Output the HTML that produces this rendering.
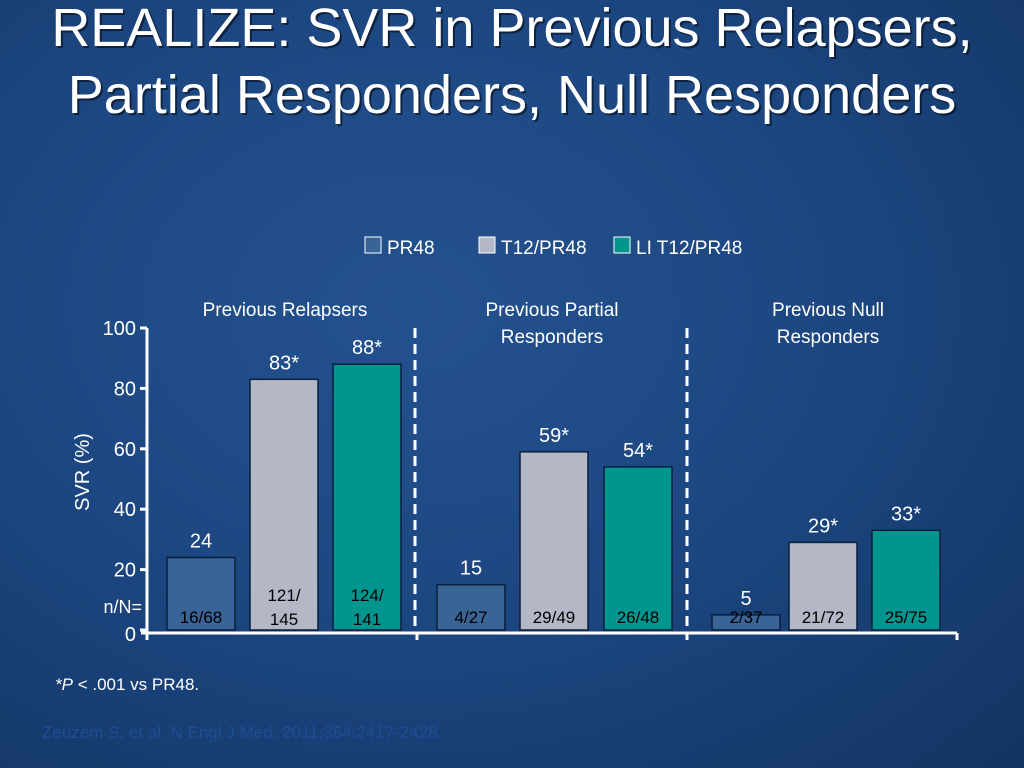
<!DOCTYPE html>
<html><head><meta charset="utf-8"><style>
html,body{margin:0;padding:0;width:1024px;height:768px;overflow:hidden}
body{background:radial-gradient(ellipse at 40% 40%,#24528f 0%,#1c4680 50%,#123461 100%);font-family:"Liberation Sans",sans-serif}
svg{position:absolute;left:0;top:0}
</style></head><body>
<svg width="1024" height="768">
<text x="512" y="46" text-anchor="middle" font-size="54" fill="#000" opacity="0.5"><tspan x="514" y="48">REALIZE: SVR in Previous Relapsers,</tspan><tspan x="514" y="115">Partial Responders, Null Responders</tspan></text>
<text x="512" y="46" text-anchor="middle" font-size="54" fill="#fff"><tspan x="512" y="46">REALIZE: SVR in Previous Relapsers,</tspan><tspan x="512" y="113">Partial Responders, Null Responders</tspan></text>
<g id="legend"></g>
<g id="plot"></g>
<text x="55" y="690" font-size="17" fill="#fff"><tspan font-style="italic">*P</tspan> &lt; .001 vs PR48.</text>
<text x="42" y="738" font-size="17" fill="#1f4d95">Zeuzem S, et al. N Engl J Med. 2011;364:2417-2428.</text>
</svg>
<script>
const groups=["Previous Relapsers","Previous Partial|Responders","Previous Null|Responders"];
const series=["PR48","T12/PR48","LI T12/PR48"];
const values=[[24,83,88],[15,59,54],[5,29,33]];
const valueLabels=[["24","83*","88*"],["15","59*","54*"],["5","29*","33*"]];
const nLabels=[["16/68","121/|145","124/|141"],["4/27","29/49","26/48"],["2/37","21/72","25/75"]];
const yTicks=[0,20,40,60,80,100];
const colors=["#3a6496","#b4b8c6","#00968f"];
const NS="http://www.w3.org/2000/svg";
const plot=document.getElementById('plot'),leg=document.getElementById('legend');
const x0=147,x1=957,yB=630,yT=328;
const y=v=>yB-(v/100)*(yB-yT);
const groupW=(x1-x0)/3;
const gx=g=>x0+g*groupW;
const bw=68;
const groupStart=[167,437,712];
const barOff=[[0,83,166],[0,83,167],[0,77,160]];
const bx=(g,s)=>groupStart[g]+barOff[g][s];
function mk(t,a,txt,p){const e=document.createElementNS(NS,t);for(const k in a)e.setAttribute(k,a[k]);if(txt!==undefined)e.textContent=txt;(p||plot).appendChild(e);return e;}
const lx=[365,479,614];
series.forEach((s,i)=>{
 const r=mk('rect',{x:lx[i],y:237,width:16,height:16,fill:colors[i],stroke:"#fff","stroke-width":1},undefined,leg);
 
 
 const t=mk('text',{x:lx[i]+22,y:254,"font-size":19,fill:"#fff"},s,leg);
 
 
});
values.forEach((gv,g)=>{
 gv.forEach((v,s)=>{
  const x=bx(g,s);
  const r=mk('rect',{x:x,y:y(v),width:bw,height:yB-y(v),fill:colors[s],stroke:"#0a1e3c","stroke-width":1.5});
  
  
  const t=mk('text',{x:x+bw/2,y:y(v)-10,"text-anchor":"middle","font-size":20,fill:"#fff"},valueLabels[g][s]);
  
  
  const parts=nLabels[g][s].split('|');
  parts.forEach((p,i)=>{
   const n=mk('text',{x:x+bw/2,y:parts.length>1?(601+i*24):623,"text-anchor":"middle","font-size":17,fill:"#000"},p);
   
   
  });
 });
 const gl=groups[g].split('|');
 gl.forEach((p,i)=>{
  const t=mk('text',{x:[285,552,828][g],y:316+i*27,"text-anchor":"middle","font-size":19,fill:"#fff"},p);
  
  
 });
});
[415,687].forEach(xx=>{const l=mk('line',{x1:xx,x2:xx,y1:yT,y2:yB+4,stroke:"#fff","stroke-width":3,"stroke-dasharray":"10,6"});
 });
const ya=mk('line',{x1:x0,x2:x0,y1:yT,y2:yB+4,stroke:"#fff","stroke-width":3});

const xa=mk('line',{x1:x0-6,x2:x1,y1:yB+3,y2:yB+3,stroke:"#fff","stroke-width":3});

[x0,gx(1),gx(2),x1].forEach(xx=>{const l=mk('line',{x1:xx,x2:xx,y1:yB+3,y2:yB+10,stroke:"#fff","stroke-width":3});
 });
yTicks.forEach(v=>{
 const l=mk('line',{x1:x0-7,x2:x0,y1:y(v),y2:y(v),stroke:"#fff","stroke-width":3});
 
 const t=mk('text',{x:x0-11,y:y(v)+(v===0?11:7),"text-anchor":"end","font-size":20,fill:"#fff"},String(v));
 
});
const nn=mk('text',{x:x0-5,y:613,"text-anchor":"end","font-size":18,fill:"#fff"},"n/N=");

const yt=mk('text',{x:0,y:0,"text-anchor":"middle","font-size":20,fill:"#fff",transform:"translate(89,472) rotate(-90)"},"SVR (%)");

</script>
</body></html>
